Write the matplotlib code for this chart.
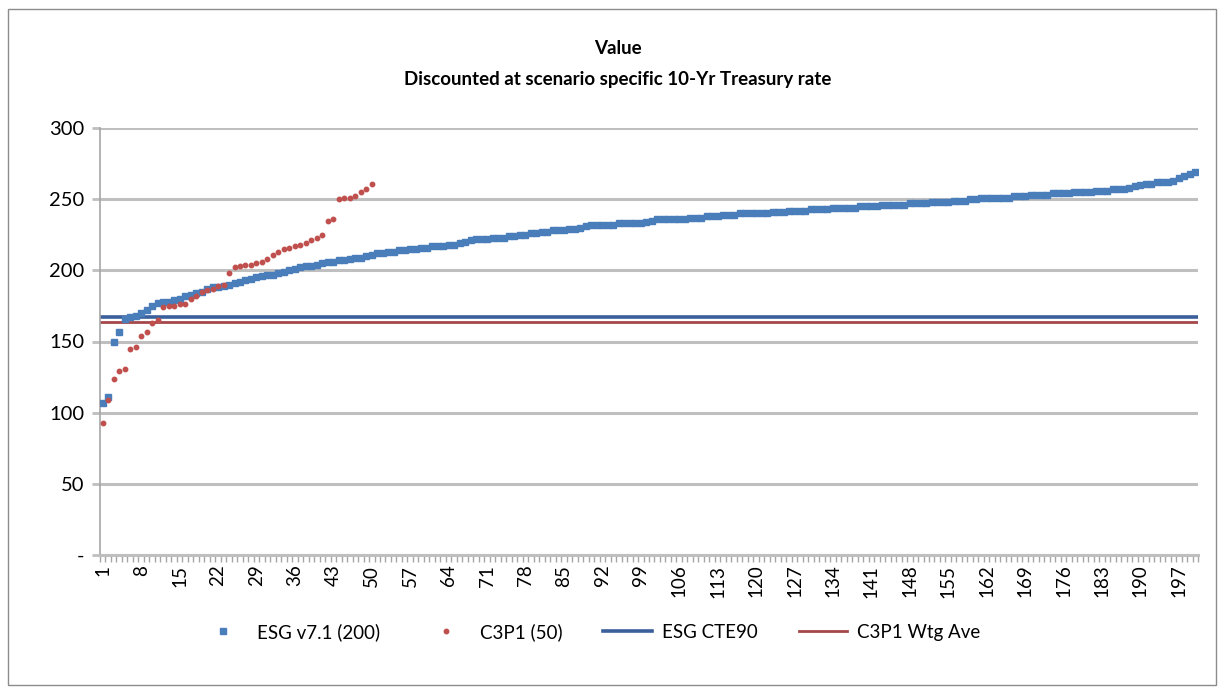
import matplotlib.pyplot as plt
import matplotlib.patches as patches
import numpy as np

# ESG v7.1 scenario values, sorted (200 scenarios)
esg_values = [107, 111, 150, 157, 166, 167, 168, 170, 172, 175,
              177, 178, 178, 179, 180, 182, 183, 184, 185, 187,
              188, 188, 189, 190, 191, 192, 193, 194, 195, 196,
              197, 197, 198, 199, 200, 201, 202, 203, 203, 204,
              205, 206, 206, 207, 207, 208, 209, 209, 210, 211,
              212, 212, 213, 213, 214, 214, 215, 215, 216, 216,
              217, 217, 217, 218, 218, 219, 220, 221, 222, 222,
              222, 223, 223, 223, 224, 224, 225, 225, 226, 226,
              227, 227, 228, 228, 228, 229, 229, 230, 231, 232,
              232, 232, 232, 232, 233, 233, 233, 233, 233, 234,
              235, 236, 236, 236, 236, 236, 236, 237, 237, 237,
              238, 238, 238, 239, 239, 239, 240, 240, 240, 240,
              240, 240, 241, 241, 241, 242, 242, 242, 242, 243,
              243, 243, 243, 244, 244, 244, 244, 244, 245, 245,
              245, 245, 246, 246, 246, 246, 246, 247, 247, 247,
              247, 248, 248, 248, 248, 249, 249, 249, 250, 250,
              251, 251, 251, 251, 251, 251, 252, 252, 252, 253,
              253, 253, 253, 254, 254, 254, 254, 255, 255, 255,
              255, 256, 256, 256, 257, 257, 257, 258, 259, 260,
              261, 261, 262, 262, 262, 263, 265, 266, 268, 269]

# C3P1 scenario values, sorted (50 scenarios)
c3p1_values = [93, 109, 124, 129, 131, 145, 146, 154, 157, 163,
               165, 174, 175, 175, 176, 176, 180, 182, 185, 186,
               187, 189, 190, 198, 202, 203, 204, 204, 205, 206,
               208, 211, 213, 215, 216, 217, 218, 219, 221, 223,
               225, 235, 236, 250, 251, 251, 252, 255, 257, 261]

esg_cte90 = 167.2
c3p1_wtg_ave = 163.6

title = "Value\nDiscounted at scenario specific 10-Yr Treasury rate"
labels = ["ESG v7.1 (200)", "C3P1 (50)", "ESG CTE90", "C3P1 Wtg Ave"]
y_ticks = [0, 50, 100, 150, 200, 250, 300]
y_labels = ["-", "50", "100", "150", "200", "250", "300"]

plt.rcParams['font.family'] = ['Lato', 'DejaVu Sans']

n = len(esg_values)
x_esg = np.arange(1, n + 1)
x_c3p1 = np.arange(1, len(c3p1_values) + 1)

fig = plt.figure(figsize=(12.23, 6.88), dpi=100)
ax = fig.add_axes([100/1223, 1-555/688, 1098/1223, 427/688])

blue = '#4A7EBB'
red = '#C0504D'
grid = '#BFBFBF'

ax.plot(x_esg, esg_values, linestyle='', marker='s', markersize=3.8, color=blue,
        label=labels[0], zorder=3)
ax.plot(x_c3p1, c3p1_values, linestyle='', marker='o', markersize=3.2, color=red,
        label=labels[1], zorder=4)
ax.axhline(esg_cte90, color='#3A5F9A', linewidth=2.6, label=labels[2], zorder=2)
ax.axhline(c3p1_wtg_ave, color='#A5474A', linewidth=2.0, label=labels[3], zorder=2)

ax.set_xlim(0.5, n + 0.5)
ax.set_ylim(0, 300)
ax.set_yticks(y_ticks)
ax.set_yticklabels(y_labels, fontsize=14.5)
ax.yaxis.grid(True, color=grid, linewidth=2.2, zorder=0)
ax.set_axisbelow(True)
ax.tick_params(axis='y', length=6, width=2, color=grid, pad=5)

ax.set_xticks(x_esg[::7])
ax.set_xticklabels([str(v) for v in x_esg[::7]], rotation=90, fontsize=13.5)
ax.set_xticks(np.arange(0.5, n + 1), minor=True)
ax.tick_params(axis='x', which='major', length=0, pad=7)
ax.tick_params(axis='x', which='minor', length=5, width=1, color='#A6A6A6')

for s in ['top', 'right']:
    ax.spines[s].set_visible(False)
ax.spines['left'].set_color('#A6A6A6')
ax.spines['left'].set_linewidth(1.2)
ax.spines['bottom'].set_color(grid)
ax.spines['bottom'].set_linewidth(2.2)

fig.text(0.505, 1-64/688, title, ha='center', va='center', fontsize=13.5,
         fontweight='bold', linespacing=1.95)

fig.legend(loc='center', bbox_to_anchor=(0.482, 1-632/688), ncol=4, frameon=False,
           fontsize=13.5, handlelength=2.6, handletextpad=0.5,
           columnspacing=2.2, markerscale=1.0)

fig.patches.append(patches.Rectangle((8/1223, 3/688), 1208/1223, 676/688,
                                     transform=fig.transFigure, fill=False,
                                     edgecolor='#8C8C8C', linewidth=1))

fig.savefig("out.png", dpi=100)
